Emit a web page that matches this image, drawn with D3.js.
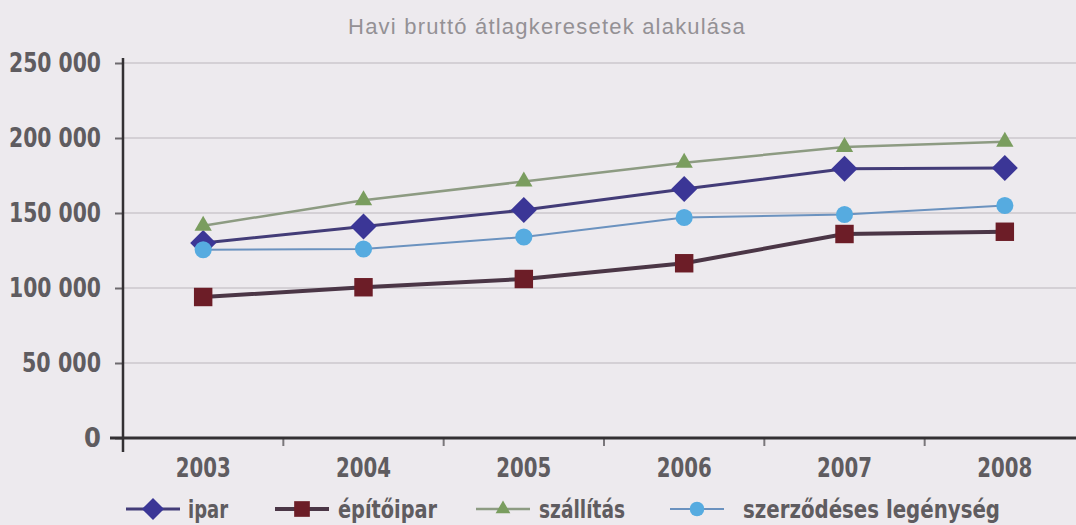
<!DOCTYPE html>
<html>
<head>
<meta charset="utf-8">
<script src="https://cdn.jsdelivr.net/npm/d3@7"></script>
<style>
  html, body { margin: 0; padding: 0; background: #edeaee; }
  #canvas { width: 1076px; height: 525px; }
</style>
</head>
<body>
<div id="canvas"></div>
<script>
// data
var years = ['2003', '2004', '2005', '2006', '2007', '2008'];
var ipar = [130000, 141000, 152000, 166000, 179500, 180000];
var epitoipar = [94000, 100500, 106000, 116500, 136000, 137500];
var szallitas = [141500, 158500, 171000, 183500, 194000, 197500];
var szerzodeses = [125500, 126000, 134000, 147000, 149000, 155000];
var yTicks = [0, 50000, 100000, 150000, 200000, 250000];
var seriesNames = ['ipar', 'építőipar', 'szállítás', 'szerződéses legénység'];

var series = [
  { name: seriesNames[0], values: ipar, line: '#433c78', lw: 3, marker: 'diamond', fill: '#3b3696', size: 300 },
  { name: seriesNames[1], values: epitoipar, line: '#4b3646', lw: 4, marker: 'square', fill: '#6c1d27', size: 340 },
  { name: seriesNames[2], values: szallitas, line: '#8d9b82', lw: 2.5, marker: 'triangle', fill: '#7a9d5f', size: 130 },
  { name: seriesNames[3], values: szerzodeses, line: '#6b92bf', lw: 2, marker: 'circle', fill: '#56abe0', size: 230 }
];

var W = 1076, H = 525;
var svg = d3.select('#canvas').append('svg')
  .attr('width', W)
  .attr('height', H);

svg.append('rect')
  .attr('width', W).attr('height', H)
  .attr('fill', '#edeaee');

var x = d3.scaleBand().domain(years).range([123, 1085]);
var y = d3.scaleLinear().domain([0, 250000]).range([438, 63]);

var numFont = '"DejaVu Sans Condensed", "Liberation Sans Narrow", sans-serif';
var fmt = function (v) { return d3.format(',')(v).replace(/,/g, ' '); };

// title
svg.append('text')
  .attr('x', 547).attr('y', 34)
  .attr('text-anchor', 'middle')
  .attr('font-family', '"Liberation Sans", Arial, sans-serif')
  .attr('font-size', 22)
  .attr('letter-spacing', 1.2)
  .attr('fill', '#949195')
  .text('Havi bruttó átlagkeresetek alakulása');

// gridlines
svg.append('g').selectAll('line').data(yTicks.filter(function (d) { return d > 0; }))
  .enter().append('line')
  .attr('x1', 123).attr('x2', W)
  .attr('y1', function (d) { return y(d); })
  .attr('y2', function (d) { return y(d); })
  .attr('stroke', '#cbc7cc')
  .attr('stroke-width', 1.5);

// y axis
var yAxis = svg.append('g')
  .attr('transform', 'translate(123,0)')
  .call(d3.axisLeft(y).tickValues(yTicks).tickFormat(fmt).tickSize(8).tickPadding(14));
yAxis.select('.domain').remove();
yAxis.selectAll('.tick line').attr('stroke', '#6d6a6e').attr('stroke-width', 2);
yAxis.selectAll('.tick text')
  .attr('font-family', numFont)
  .attr('font-weight', 'bold')
  .attr('font-size', 27)
  .attr('fill', '#5f5c60')
  .filter(function (d) { return d > 0; })
  .attr('textLength', function (d) { return d >= 100000 ? 92 : 79; })
  .attr('lengthAdjust', 'spacingAndGlyphs');

svg.append('line')
  .attr('x1', 123).attr('x2', 123)
  .attr('y1', 58).attr('y2', 452)
  .attr('stroke', '#333033').attr('stroke-width', 2.5);

// x axis
var xAxis = svg.append('g')
  .attr('transform', 'translate(0,438)')
  .call(d3.axisBottom(x).tickSize(0).tickPadding(20));
xAxis.select('.domain').remove();
xAxis.selectAll('.tick text')
  .attr('font-family', numFont)
  .attr('font-weight', 'bold')
  .attr('font-size', 27)
  .attr('textLength', 55)
  .attr('lengthAdjust', 'spacingAndGlyphs')
  .attr('fill', '#5f5c60');

svg.append('g').selectAll('line').data(years.slice(1))
  .enter().append('line')
  .attr('x1', function (d) { return x(d); })
  .attr('x2', function (d) { return x(d); })
  .attr('y1', 438).attr('y2', 446)
  .attr('stroke', '#7a777b').attr('stroke-width', 2);

svg.append('line')
  .attr('x1', 110).attr('x2', W)
  .attr('y1', 438).attr('y2', 438)
  .attr('stroke', '#333033').attr('stroke-width', 3);

var symbolType = {
  diamond: d3.symbolDiamond2,
  square: d3.symbolSquare,
  triangle: d3.symbolTriangle,
  circle: d3.symbolCircle
};

var markerPath = function (s) {
  if (s.marker === 'diamond') {
    var r = Math.sqrt(s.size) * 0.75;
    return 'M0,' + (-r) + 'L' + r + ',0L0,' + r + 'L' + (-r) + ',0Z';
  }
  return d3.symbol().type(symbolType[s.marker]).size(s.size)();
};

var line = d3.line()
  .x(function (d) { return x(d.year) + x.bandwidth() / 2; })
  .y(function (d) { return y(d.v); });

// lines and markers
series.forEach(function (s) {
  var pts = s.values.map(function (v, i) { return { year: years[i], v: v }; });
  var g = svg.append('g');
  g.append('path')
    .attr('d', line(pts))
    .attr('fill', 'none')
    .attr('stroke', s.line)
    .attr('stroke-width', s.lw)
    .attr('stroke-linejoin', 'round');
  g.selectAll('path.mk').data(pts)
    .enter().append('path')
    .attr('class', 'mk')
    .attr('transform', function (d) { return 'translate(' + (x(d.year) + x.bandwidth() / 2) + ',' + y(d.v) + ')'; })
    .attr('d', markerPath(s))
    .attr('fill', s.fill);
});

// legend
var legendX = [126, 275, 476, 670];
var legendW = [40, 99, 86, 257];
var legend = svg.append('g');
series.forEach(function (s, i) {
  var lg = legend.append('g').attr('transform', 'translate(' + legendX[i] + ',509)');
  lg.append('line')
    .attr('x1', 0).attr('x2', 54)
    .attr('y1', 0).attr('y2', 0)
    .attr('stroke', s.line)
    .attr('stroke-width', s.lw);
  lg.append('path')
    .attr('transform', 'translate(27,0) scale(0.85)')
    .attr('d', markerPath(s))
    .attr('fill', s.fill);
  lg.append('text')
    .attr('x', 63 + (i === 0 ? -1 : 0) + (i === 3 ? 10 : 0)).attr('y', 9)
    .attr('font-family', numFont)
    .attr('font-weight', 'bold')
    .attr('font-size', 25)
    .attr('textLength', legendW[i])
    .attr('lengthAdjust', 'spacingAndGlyphs')
    .attr('fill', '#5f5c60')
    .text(s.name);
});
</script>
</body>
</html>
